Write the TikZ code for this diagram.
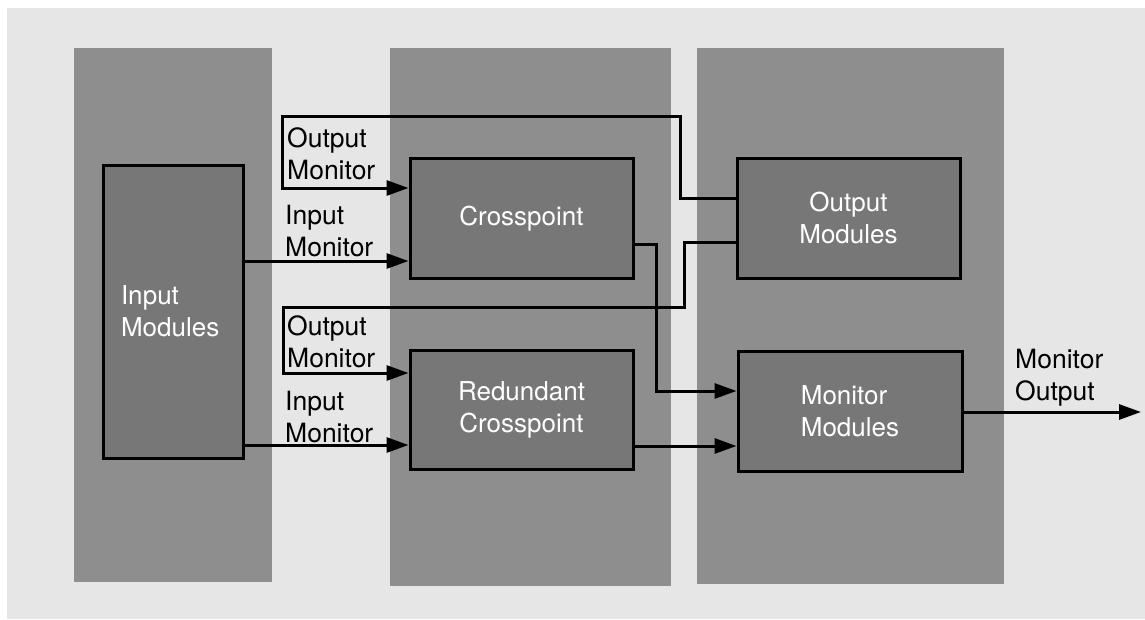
\documentclass[tikz,border=0pt]{standalone}
\usepackage{fontspec}
\setmainfont{TeX Gyre Heros}
\usetikzlibrary{arrows.meta,calc}
\definecolor{bggray}{HTML}{E6E6E6}
\definecolor{panelgray}{HTML}{8E8E8E}
\definecolor{boxgray}{HTML}{777777}
\begin{document}
\begin{tikzpicture}[x=1pt,y=-1pt,
  panel/.style={fill=panelgray,draw=none},
  module/.style={draw=black,line width=3pt,fill=boxgray,text=white,inner sep=0pt,
    font=\fontsize{26}{32}\selectfont},
  lbl/.style={text=black,align=left,inner sep=0pt,anchor=north west,
    font=\fontsize{26.5}{32}\selectfont},
  wire/.style={line width=3pt,draw=black},
  arr/.style={wire,-{Triangle[length=22pt,width=15pt]}}]
\useasboundingbox (0,0) rectangle (1145,619);
\fill[white] (0,0) rectangle (1145,619);
\fill[bggray] (7,8) rectangle (1145,619);
% panels
\fill[panel] (74,48) rectangle (272,582);
\fill[panel] (390,48) rectangle (671,586);
\fill[panel] (697,48) rectangle (1004,584);
% modules
\node[module,minimum width=140pt,minimum height=293pt,align=left,text width=104pt] (im) at (173,311.5) {Input\\Modules};
\node[module,minimum width=223pt,minimum height=120pt,align=center] (cp) at (521.5,218.5) {Crosspoint};
\node[module,minimum width=223pt,minimum height=119pt,align=center] (rc) at (521.5,409.5) {Redundant\\Crosspoint};
\node[module,minimum width=223pt,minimum height=120pt,align=center] (om) at (848.5,218) {Output\\Modules};
\node[module,minimum width=224pt,minimum height=120pt,align=left] (mm) at (850,411) {Monitor\\Modules};
% labels
\node[lbl] (l1) at (287,127) {Output\\Monitor};
\node[lbl] (l2) at (285,205) {Input\\Monitor};
\node[lbl] (l3) at (287,315) {Output\\Monitor};
\node[lbl] (l4) at (285,391) {Input\\Monitor};
\node[lbl] (l5) at (1015,349) {Monitor\\Output};
% helper coordinates
\coordinate (y198) at (0,198);
\coordinate (y188) at (0,188);
\coordinate (y261) at (0,261);
\coordinate (y242) at (0,242);
\coordinate (y373) at (0,373);
\coordinate (y244) at (0,244);
\coordinate (y391) at (0,391);
\coordinate (y446) at (0,446);
\coordinate (y445) at (0,445);
\coordinate (b1) at (680,116);
\coordinate (b2) at (282,188);
\coordinate (b3) at (684,307);
\coordinate (b4) at (283,373);
\coordinate (b5) at (656,391);
\coordinate (mo) at (1141,412);
% connectors
\draw[arr] (om.west |- y198) -| (b1) -| (b2) -- (cp.west |- y188);
\draw[arr] (im.east |- y261) -- (cp.west |- y261);
\draw[arr] (om.west |- y242) -| (b3) -| (b4) -- (rc.west |- y373);
\draw[arr] (im.east |- y445) -- (rc.west |- y445);
\draw[arr] (cp.east |- y244) -| (b5) -- (mm.west |- y391);
\draw[arr] (rc.east |- y446) -- (mm.west |- y446);
\draw[arr] (mm.east |- mo) -- (mo);
\end{tikzpicture}
\end{document}
